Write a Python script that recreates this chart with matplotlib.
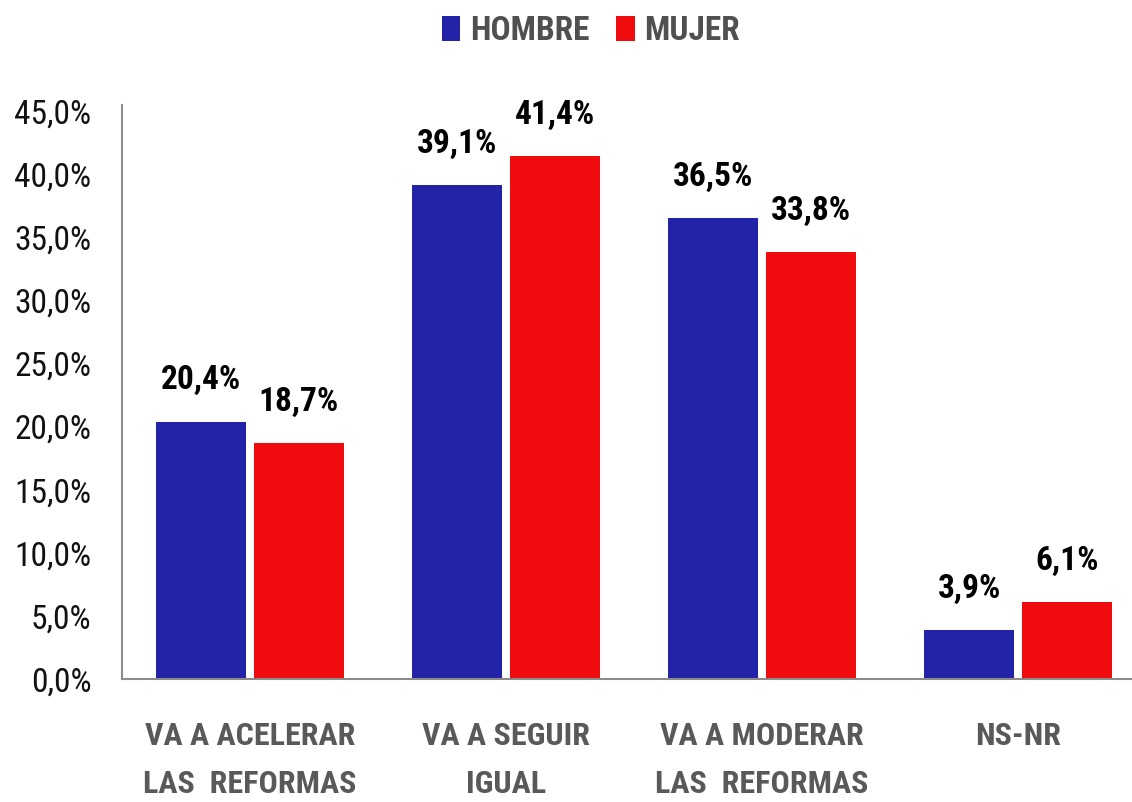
import matplotlib
matplotlib.use("Agg")
import matplotlib.pyplot as plt
import numpy as np
from matplotlib import font_manager
from matplotlib.font_manager import FontProperties

categories = ["VA A ACELERAR\nLAS  REFORMAS", "VA A SEGUIR\nIGUAL", "VA A MODERAR\nLAS  REFORMAS", "NS-NR"]
hombre = [20.4, 39.1, 36.5, 3.9]
mujer = [18.7, 41.4, 33.8, 6.1]
series_names = ["HOMBRE", "MUJER"]
yticks = [0, 5, 10, 15, 20, 25, 30, 35, 40, 45]

# ---- pick a narrow font if any is installed ----
entries = font_manager.fontManager.ttflist
def is_narrow(f):
    n = f.name.lower()
    return ("narrow" in n or "condensed" in n or str(f.stretch) in {"condensed", "semi-condensed", "extra-condensed", "ultra-condensed"}
            or "condensed" in f.fname.lower() or "narrow" in f.fname.lower())
narrow = [f for f in entries if is_narrow(f) and f.style == "normal"]
prefs = ["liberation sans narrow", "roboto condensed", "open sans", "dejavu sans", "noto sans", "lato", "inter"]
def rank(f):
    n = f.name.lower()
    for i, p in enumerate(prefs):
        if n.startswith(p):
            return i
    return len(prefs)
narrow.sort(key=rank)

def wnum(w):
    try:
        return int(w)
    except Exception:
        return {"bold": 700, "normal": 400, "regular": 400}.get(str(w).lower(), 400)

reg_fp = bold_fp = None
if narrow:
    name = narrow[0].name
    same = [f for f in narrow if f.name == name]
    regs = sorted(same, key=lambda f: abs(wnum(f.weight) - 400))
    bolds = sorted(same, key=lambda f: abs(wnum(f.weight) - 700))
    reg_fp = regs[0].fname
    bold_fp = bolds[0].fname
    scale = 1.0
else:
    scale = 0.8

def fp(bold, size):
    path = bold_fp if bold else reg_fp
    if path:
        return FontProperties(fname=path, size=size)
    return FontProperties(family=["Lato", "DejaVu Sans"], weight="bold" if bold else "normal", size=size * scale)

blue = "#2323A8"
red = "#F00C0E"

fig = plt.figure(figsize=(11.32, 8.02), dpi=100)
ax = fig.add_axes([122/1132, 1-679/802, 1024/1132, (679-111)/802])

x = np.arange(len(categories))
w = 0.352
off = 0.191
b1 = ax.bar(x - off, hombre, w, color=blue, label=series_names[0])
b2 = ax.bar(x + off, mujer, w, color=red, label=series_names[1])

for bars, vals in ((b1, hombre), (b2, mujer)):
    for b, v in zip(bars, vals):
        ax.text(b.get_x() + b.get_width()/2, v + 2.55, f"{v:.1f}%".replace(".", ","),
                ha="center", va="baseline", fontproperties=fp(True, 24), color="black")

ax.set_xlim(-0.5, 3.5)
ax.set_ylim(0, 45)
ax.set_yticks(yticks)
ax.set_yticklabels([f"{t:.1f}%".replace(".", ",") for t in yticks], color="#111111")
for t in ax.get_yticklabels():
    t.set_fontproperties(fp(False, 24))
ax.set_xticks(x)
ax.set_xticklabels(categories, color="#595959", linespacing=1.78)
for t in ax.get_xticklabels():
    t.set_fontproperties(fp(True, 23))
ax.tick_params(axis="both", length=0)
ax.tick_params(axis="x", pad=30)
ax.tick_params(axis="y", pad=22)
for s in ("top", "right"):
    ax.spines[s].set_visible(False)
for s in ("left", "bottom"):
    ax.spines[s].set_color("#8C8C8C")
    ax.spines[s].set_linewidth(1.5)
ax.spines["left"].set_bounds(0, 45.5)

leg = fig.legend(handles=[b1, b2], labels=series_names, loc="center", bbox_to_anchor=(591/1132, 1-31/802),
                 ncol=2, frameon=False, handlelength=0.55, handleheight=0.75,
                 handletextpad=0.3, columnspacing=0.8, prop=fp(True, 24))
for t in leg.get_texts():
    t.set_color("#505050")

fig.savefig("out.png", dpi=100)
